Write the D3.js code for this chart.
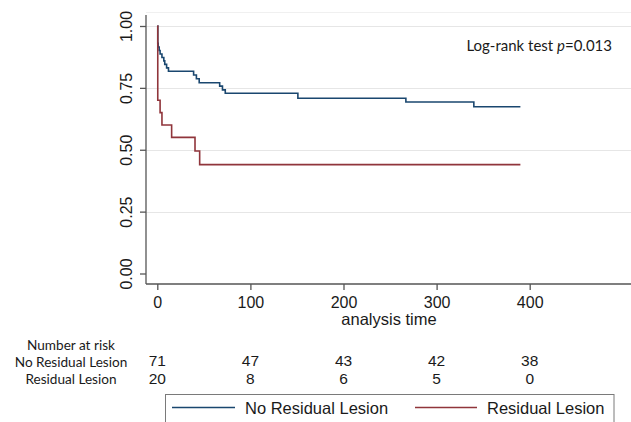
<!DOCTYPE html>
<html><head><meta charset="utf-8">
<script src="https://cdn.jsdelivr.net/npm/d3@7"></script>
<style>html,body{margin:0;padding:0;background:#fff;}svg{display:block;}</style>
</head><body>
<div id="chart"></div>
<script>
// ---- data ----
const seriesNames = ["No Residual Lesion", "Residual Lesion"];
const seriesColors = ["#1a476f", "#90353b"];
const noResTimes = [0, 0.5, 1, 2, 3, 5, 7, 8, 10, 12, 39, 42, 45, 48, 67, 70, 73, 77, 151, 267, 340, 390];
const noResSurv  = [1, 0.930, 0.915, 0.901, 0.887, 0.873, 0.859, 0.845, 0.831, 0.817, 0.802, 0.787, 0.771, 0.771, 0.757, 0.742, 0.728, 0.728, 0.708, 0.693, 0.674, 0.674];
const resTimes = [0, 0.5, 3, 5, 15.4, 40.5, 45.5, 390];
const resSurv  = [1, 0.70, 0.65, 0.60, 0.55, 0.495, 0.44, 0.44];
const xTicks = [0, 100, 200, 300, 400];
const yTicks = [0, 0.25, 0.5, 0.75, 1];
const riskTitle = "Number at risk";
const riskNoRes = [71, 47, 43, 42, 38];
const riskRes = [20, 8, 6, 5, 0];
const xTitle = "analysis time";
const annotation = "Log-rank test ";

const W = 631, H = 422;
const svg = d3.select("#chart").append("svg").attr("width", W).attr("height", H);

const x = d3.scaleLinear().domain([0, 400]).range([157.3, 529.7]);
const y = d3.scaleLinear().domain([0, 1]).range([273.5, 26]);
const axisX0 = 146, axisY0 = 284;

// faint plot region top
svg.append("line").attr("x1", axisX0).attr("x2", W).attr("y1", 12.5).attr("y2", 12.5)
  .attr("stroke", "#f0f0f0").attr("stroke-width", 1);

// gridlines
svg.append("g").selectAll("line").data(yTicks.filter(d => d > 0)).join("line")
  .attr("x1", axisX0).attr("x2", W)
  .attr("y1", d => Math.round(y(d)) + 0.5).attr("y2", d => Math.round(y(d)) + 0.5)
  .attr("stroke", "#e6e6e6").attr("stroke-width", 1);

// axes
const gx = svg.append("g").attr("transform", `translate(0,${axisY0})`)
  .call(d3.axisBottom(x).tickValues(xTicks).tickSize(6).tickPadding(4).tickFormat(d3.format("d")));
gx.select(".domain").attr("d", `M${axisX0},0H${W}`);
const gy = svg.append("g").attr("transform", `translate(${axisX0},0)`)
  .call(d3.axisLeft(y).tickValues(yTicks).tickSize(6).tickFormat(d3.format(".2f")));
gy.select(".domain").attr("d", `M0,15V${axisY0}`);
svg.selectAll(".domain, .tick line").attr("stroke", "#555").attr("stroke-width", 1.3);
gx.selectAll("text").attr("font-family", "Liberation Sans, Arial, sans-serif")
  .attr("font-size", 16).attr("fill", "#1a1a1a").attr("dy", null).attr("y", 24);
gy.selectAll("text").attr("font-family", "Liberation Sans, Arial, sans-serif")
  .attr("font-size", 16).attr("fill", "#1a1a1a")
  .attr("text-anchor", "middle").attr("dy", null).attr("x", null)
  .attr("transform", "translate(-14,0) rotate(-90)");

// x title
svg.append("text").attr("x", 389).attr("y", 325).attr("text-anchor", "middle")
  .attr("font-family", "Liberation Sans, Arial, sans-serif").attr("font-size", 16.5)
  .attr("fill", "#1a1a1a").text(xTitle);

// curves (blue first, red on top)
const line = d3.line().x(d => x(d[0])).y(d => y(d[1])).curve(d3.curveStepAfter);
const curves = [d3.zip(noResTimes, noResSurv), d3.zip(resTimes, resSurv)];
[0, 1].forEach(i => {
  svg.append("path").datum(curves[i]).attr("d", line)
    .attr("fill", "none").attr("stroke", seriesColors[i]).attr("stroke-width", 1.6);
});

// annotation
const ann = svg.append("text").attr("x", 612).attr("y", 51).attr("text-anchor", "end")
  .attr("font-family", "Lato, Carlito, Calibri, sans-serif").attr("font-size", 15).attr("fill", "#1a1a1a");
ann.append("tspan").text(annotation);
ann.append("tspan").attr("font-style", "italic").text("p");
ann.append("tspan").text("=0.013");

// risk table
const labFont = "Lato, Carlito, Calibri, sans-serif";
const labels = [[riskTitle, 350], [seriesNames[0], 367.3], [seriesNames[1], 384.3]];
svg.append("g").selectAll("text").data(labels).join("text")
  .attr("x", 71).attr("y", d => d[1]).attr("text-anchor", "middle")
  .attr("font-family", labFont).attr("font-size", 13.6).attr("fill", "#1a1a1a").text(d => d[0]);
[[riskNoRes, 366], [riskRes, 383.5]].forEach(([vals, yy]) => {
  svg.append("g").selectAll("text").data(vals).join("text")
    .attr("x", (d, i) => x(xTicks[i])).attr("y", yy).attr("text-anchor", "middle")
    .attr("font-family", "Liberation Sans, Arial, sans-serif").attr("font-size", 15.5)
    .attr("fill", "#1a1a1a").text(d => d);
});

// legend
svg.append("rect").attr("x", 165.5).attr("y", 394.5).attr("width", 448.5).attr("height", 40)
  .attr("fill", "#fff").attr("stroke", "#7a7a7a").attr("stroke-width", 1);
const legItems = [
  {name: seriesNames[0], color: seriesColors[0], x1: 172, x2: 235, tx: 245},
  {name: seriesNames[1], color: seriesColors[1], x1: 415, x2: 477, tx: 487}
];
legItems.forEach(it => {
  svg.append("line").attr("x1", it.x1).attr("x2", it.x2).attr("y1", 407.5).attr("y2", 407.5)
    .attr("stroke", it.color).attr("stroke-width", 1.5);
  svg.append("text").attr("x", it.tx).attr("y", 414).attr("font-family", "Liberation Sans, Arial, sans-serif")
    .attr("font-size", 16.5).attr("fill", "#1a1a1a").text(it.name);
});
</script>
</body></html>
